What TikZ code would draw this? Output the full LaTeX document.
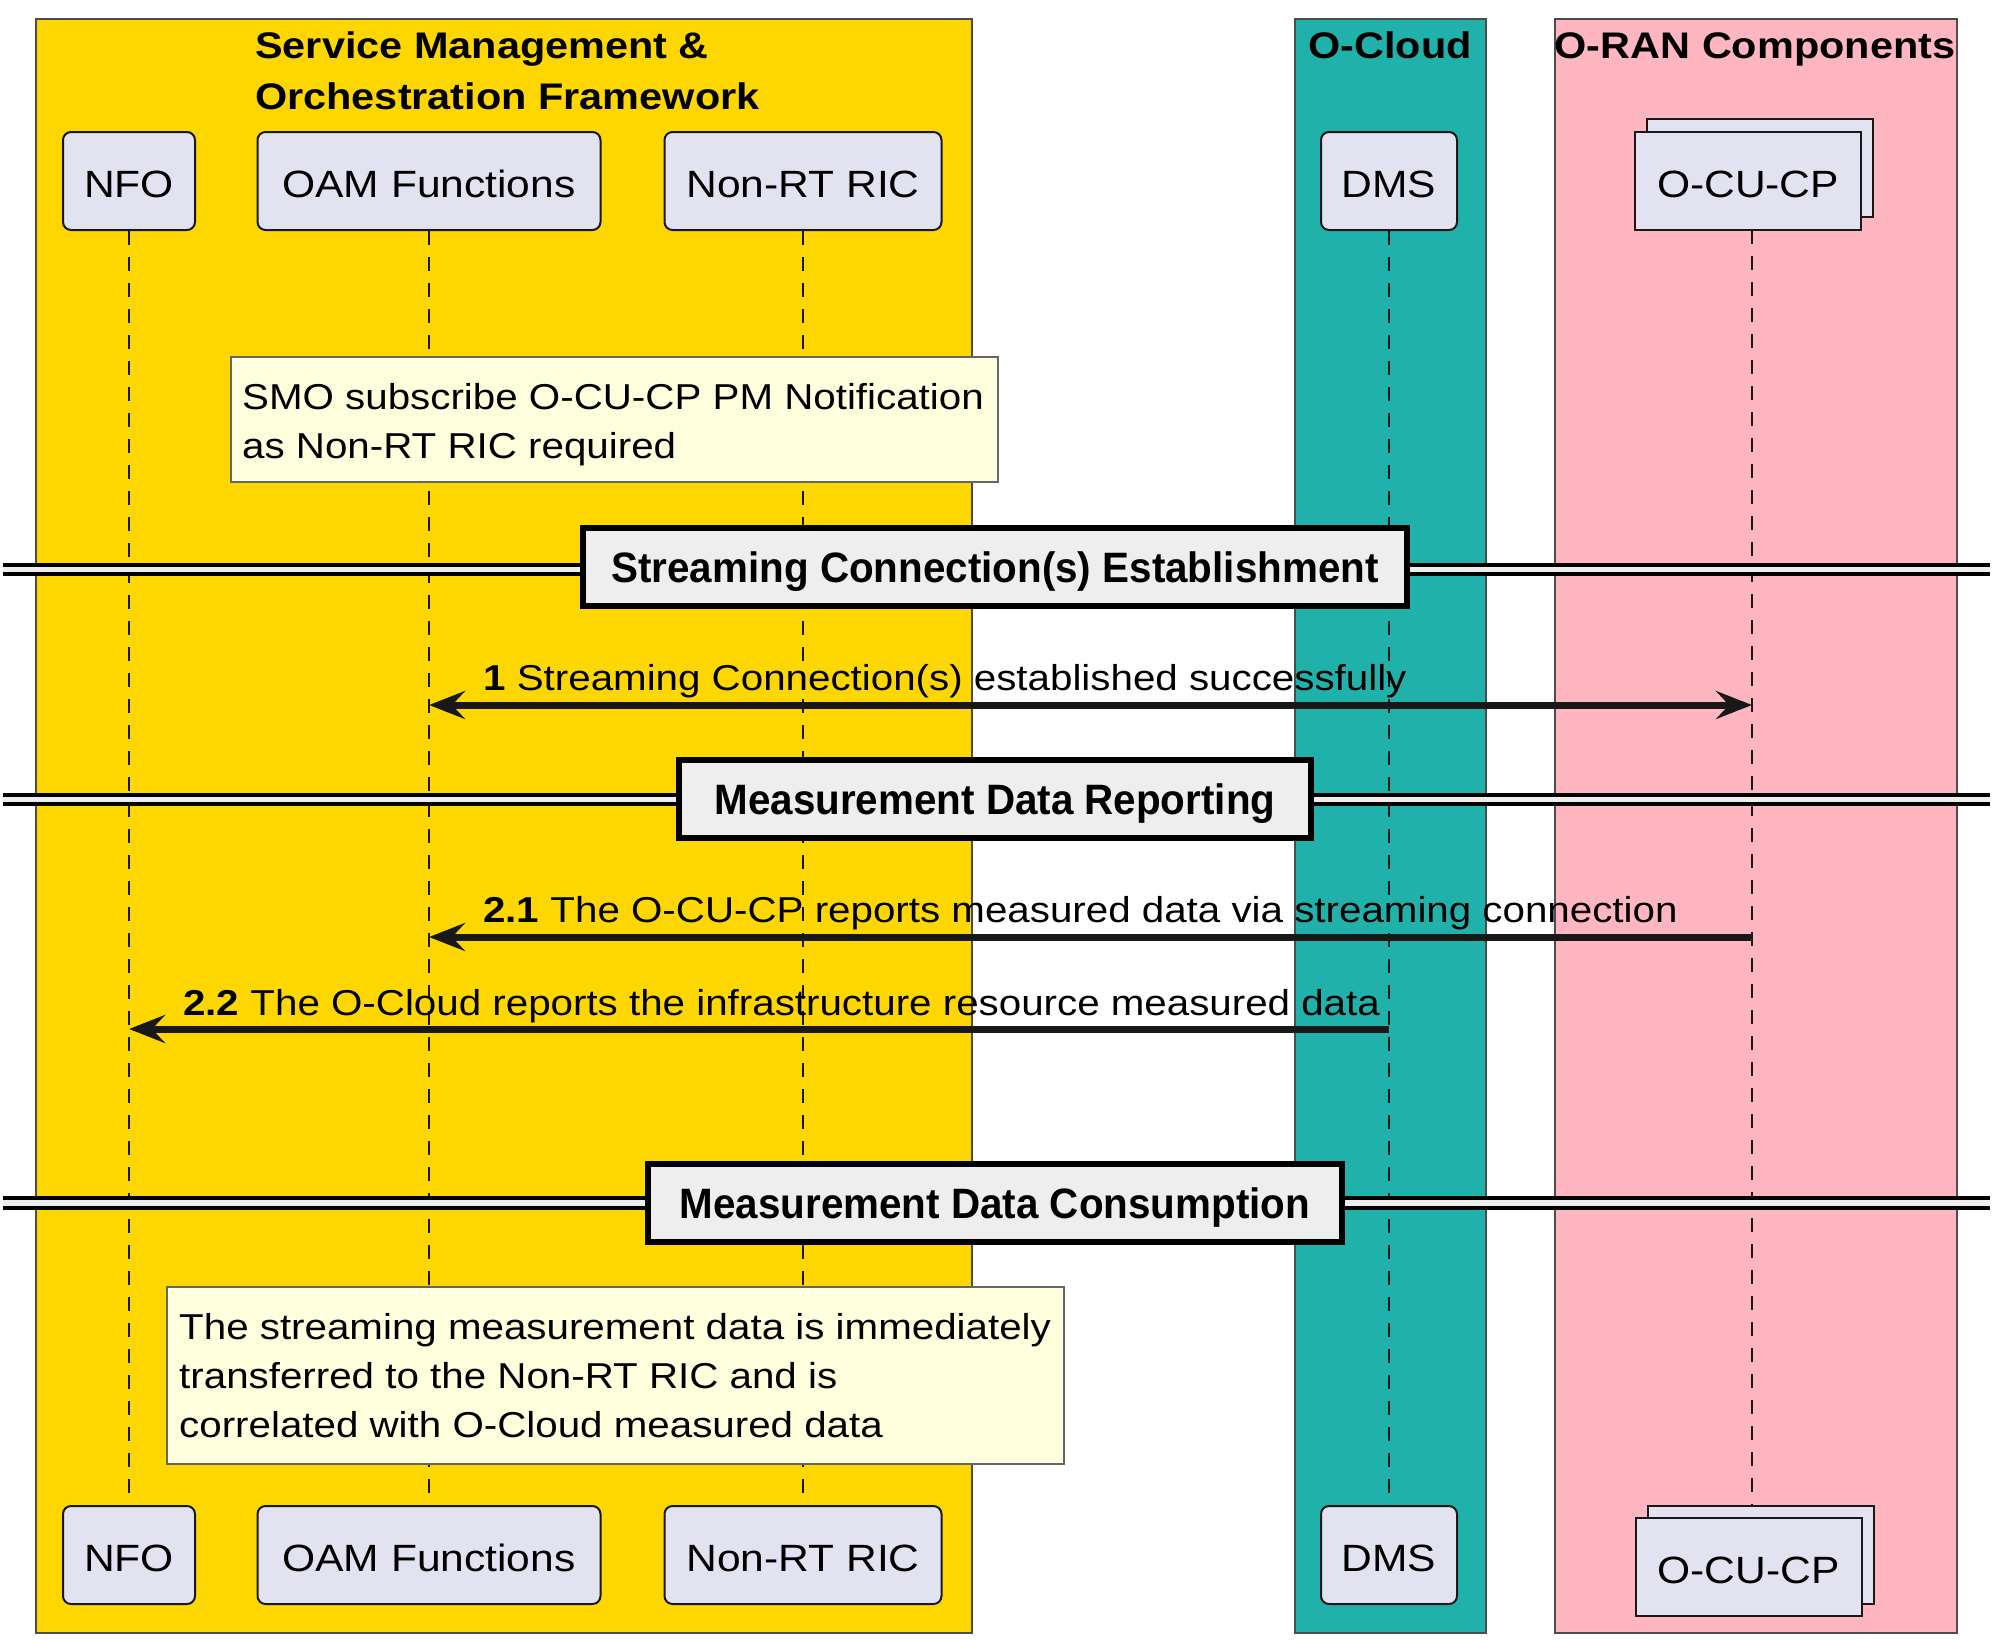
\documentclass[tikz,border=0pt]{standalone}
\usepackage{fontspec}
\setmainfont{Liberation Sans}[FakeStretch=1.12]
\newfontfamily\sepfam{Liberation Sans}[FakeStretch=0.95]
\usetikzlibrary{arrows.meta}
\definecolor{smo}{HTML}{FFD700}
\definecolor{ocloud}{HTML}{20B2AA}
\definecolor{oran}{HTML}{FFB6C1}
\definecolor{part}{HTML}{E2E2F0}
\definecolor{notec}{HTML}{FEFFDD}
\definecolor{sepc}{HTML}{EEEEEE}
\definecolor{ink}{HTML}{181818}
\newcommand\partfont{\fontsize{38}{46}\selectfont}
\newcommand\msgfont{\fontsize{36}{49}\selectfont}
\newcommand\sepfont{\sepfam\fontsize{42.5}{50}\selectfont\bfseries}
\newcommand\ttlfont{\fontsize{37}{51}\selectfont\bfseries}
\begin{document}
\begin{tikzpicture}[x=1pt,y=-1pt,
  frame/.style={draw=black!70, line width=1.5pt, inner sep=0pt, anchor=north west},
  partbox/.style={draw=ink, fill=part, rounded corners=8pt, line width=2pt, inner sep=0pt, font=\partfont, minimum height=98pt, text height=32pt, text depth=0pt},
  collbox/.style={draw=ink, fill=part, line width=2pt, inner sep=0pt, font=\partfont, minimum width=226pt, minimum height=98pt, text height=32pt, text depth=0pt},
  lifeline/.style={draw=ink, line width=1.5pt, dash pattern=on 14pt off 12pt},
  notebox/.style={draw=black!60, fill=notec, line width=1.5pt, inner sep=0pt, anchor=north west},
  notetext/.style={font=\msgfont, align=left, inner sep=0pt, anchor=north west},
  sepline/.style={draw=black, line width=3.5pt},
  sepbox/.style={draw=black, fill=sepc, line width=6pt, font=\sepfont, inner sep=0pt, minimum height=78pt, text height=30pt, text depth=0pt},
  msg/.style={draw=ink, line width=7pt, -{Stealth[length=36pt,width=28pt,inset=13pt]}},
  msgtwo/.style={draw=ink, line width=7pt, {Stealth[length=36pt,width=28pt,inset=13pt]}-{Stealth[length=36pt,width=28pt,inset=13pt]}},
  msglabel/.style={font=\msgfont, anchor=base west, inner sep=0pt},
  ttl/.style={font=\ttlfont, inner sep=0pt}
]
\path[use as bounding box] (0,0) rectangle (2010,1650);

% frames
\node[frame, fill=smo, minimum width=936pt, minimum height=1614pt] (smoF) at (35,18) {};
\node[frame, fill=ocloud, minimum width=191pt, minimum height=1614pt] (ocF) at (1294,18) {};
\node[frame, fill=oran, minimum width=402pt, minimum height=1614pt] (orF) at (1554,18) {};
\node[ttl, align=left, anchor=north west] (smoT) at (255,31) {Service Management \&\\Orchestration Framework};
\node[ttl, anchor=base] (ocT) at (1390,58) {O-Cloud};
\node[ttl, anchor=base] (orT) at (1755,58) {O-RAN Components};

% participants top
\node[partbox, minimum width=132pt] (nfoT) at (129,181) {NFO};
\node[partbox, minimum width=343pt] (oamT) at (429,181) {OAM Functions};
\node[partbox, minimum width=277pt] (ricT) at (803,181) {Non-RT RIC};
\node[partbox, minimum width=136pt] (dmsT) at (1389,181) {DMS};
\node[collbox] (ocuTb) at (1760,168) {};
\node[collbox] (ocuT) at (1748,181) {O-CU-CP};

% participants bottom
\node[partbox, minimum width=132pt] (nfoB) at (129,1555) {NFO};
\node[partbox, minimum width=343pt] (oamB) at (429,1555) {OAM Functions};
\node[partbox, minimum width=277pt] (ricB) at (803,1555) {Non-RT RIC};
\node[partbox, minimum width=136pt] (dmsB) at (1389,1555) {DMS};
\node[collbox] (ocuBb) at (1760.5,1555) {};
\node[collbox] (ocuB) at (1748.5,1567) {O-CU-CP};

% lifelines
\coordinate (ocuLT) at (1752,230);
\coordinate (ocuLB) at (1752,1506);
\draw[lifeline] (nfoT.south) -- (nfoB.north);
\draw[lifeline] (oamT.south) -- (oamB.north);
\draw[lifeline] (ricT.south) -- (ricB.north);
\draw[lifeline] (dmsT.south) -- (dmsB.north);
\draw[lifeline] (ocuLT) -- (ocuLB);

% note 1
\node[notebox, minimum width=767pt, minimum height=125pt] (n1) at (230,356) {};
\node[notetext] (n1t) at (242,383) {SMO subscribe O-CU-CP PM Notification\\as Non-RT RIC required};

% separator 1
\coordinate (s1L) at (3,565);
\coordinate (s1R) at (1990,565);
\fill[sepc] (3,565) rectangle (1990,574);
\draw[sepline] (s1L) -- (s1R);
\draw[sepline] (3,574) -- (1990,574);
\node[sepbox, minimum width=824pt] (sep1) at (995,567) {Streaming Connection(s) Establishment};

% message 1
\coordinate (m1a) at (429,705);
\coordinate (m1b) at (1752,705);
\draw[msgtwo] (m1a) -- (m1b);
\node[msglabel] (m1l) at (483,690) {\textbf{1} Streaming Connection(s) established successfully};

% separator 2
\fill[sepc] (3,795) rectangle (1990,804);
\draw[sepline] (3,795) -- (1990,795);
\draw[sepline] (3,804) -- (1990,804);
\node[sepbox, minimum width=632pt] (sep2) at (995,799) {Measurement Data Reporting};

% message 2.1
\coordinate (m21a) at (1752,937);
\coordinate (m21b) at (429,937);
\draw[msg] (m21a) -- (m21b);
\node[msglabel] (m21l) at (483,922) {\textbf{2.1} The O-CU-CP reports measured data via streaming connection};

% message 2.2
\coordinate (m22a) at (1389,1029);
\coordinate (m22b) at (129,1029);
\draw[msg] (m22a) -- (m22b);
\node[msglabel] (m22l) at (183,1015) {\textbf{2.2} The O-Cloud reports the infrastructure resource measured data};

% separator 3
\fill[sepc] (3,1198) rectangle (1990,1208);
\draw[sepline] (3,1198) -- (1990,1198);
\draw[sepline] (3,1208) -- (1990,1208);
\node[sepbox, minimum width=694pt] (sep3) at (995,1203) {Measurement Data Consumption};

% note 2
\node[notebox, minimum width=897pt, minimum height=177pt] (n2) at (166,1286) {};
\node[notetext] (n2t) at (179,1313) {The streaming measurement data is immediately\\transferred to the Non-RT RIC and is\\correlated with O-Cloud measured data};
\end{tikzpicture}
\end{document}
